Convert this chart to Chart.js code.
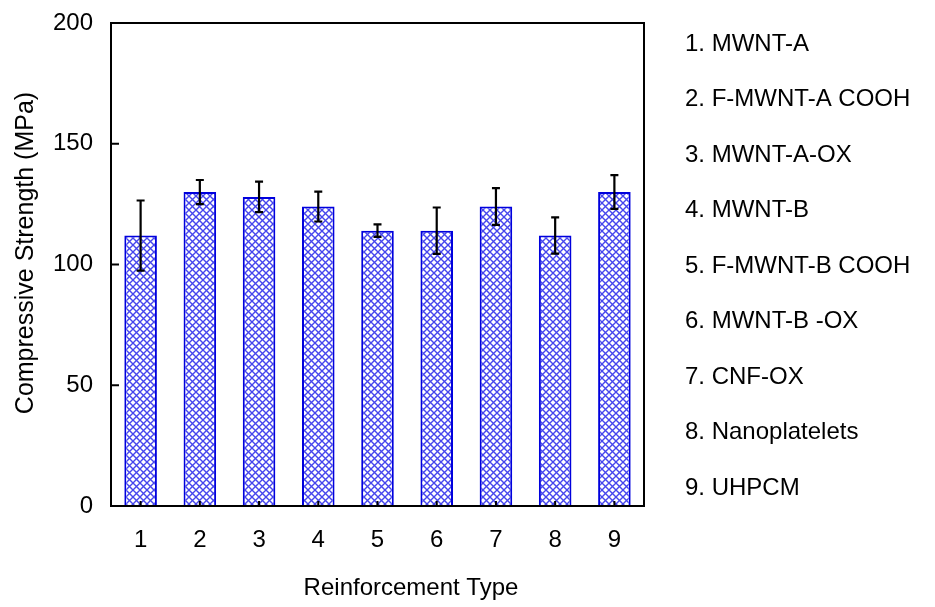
<!DOCTYPE html>
<html>
<head>
<meta charset="utf-8">
<script src="https://cdn.jsdelivr.net/npm/chart.js@4/dist/chart.umd.min.js"></script>
<style>
  html, body { margin: 0; padding: 0; background: #fff; }
  #wrap { width: 935px; height: 607px; }
</style>
</head>
<body>
<div id="wrap"><canvas id="strengthChart" width="935" height="607"></canvas></div>
<script>
// Compressive strength by reinforcement type
const categories = ['1', '2', '3', '4', '5', '6', '7', '8', '9'];
const strength = [112, 130, 128, 124, 114, 114, 124, 112, 130];
const strengthErr = [14.5, 5, 6.3, 6.2, 2.6, 9.6, 7.6, 7.5, 7];
const typeNames = [
    '1. MWNT-A',
    '2. F-MWNT-A COOH',
    '3. MWNT-A-OX',
    '4. MWNT-B',
    '5. F-MWNT-B COOH',
    '6. MWNT-B -OX',
    '7. CNF-OX',
    '8. Nanoplatelets',
    '9. UHPCM'
];
const yTicks = [0, 50, 100, 150, 200];
const xTitle = 'Reinforcement Type';
const yTitle = 'Compressive Strength (MPa)';

const FONT = "'Liberation Sans', Arial, sans-serif";

// crosshatch fill for the bars
function makeHatch() {
    const c = document.createElement('canvas');
    c.width = 7;
    c.height = 7;
    const g = c.getContext('2d');
    g.fillStyle = '#ffffff';
    g.fillRect(0, 0, 7, 7);
    g.strokeStyle = 'rgba(50, 50, 235, 0.9)';
    g.lineWidth = 1.4;
    g.beginPath();
    g.moveTo(-1, -1); g.lineTo(8, 8);
    g.moveTo(8, -1); g.lineTo(-1, 8);
    g.stroke();
    return document.getElementById('strengthChart').getContext('2d').createPattern(c, 'repeat');
}

// error bars, frame, inside tick marks, axis titles and the type list
const extrasPlugin = {
    id: 'extras',
    afterDatasetsDraw(chart) {
        const ctx = chart.ctx;
        const x = chart.scales.x;
        const y = chart.scales.y;
        const area = chart.chartArea;

        ctx.save();
        ctx.strokeStyle = '#000';
        ctx.lineWidth = 2.2;
        strength.forEach(function(v, i) {
            const cx = x.getPixelForValue(i);
            const top = y.getPixelForValue(v + strengthErr[i]);
            const bot = y.getPixelForValue(v - strengthErr[i]);
            ctx.beginPath();
            ctx.moveTo(cx, top); ctx.lineTo(cx, bot);
            ctx.moveTo(cx - 4, top); ctx.lineTo(cx + 4, top);
            ctx.moveTo(cx - 4, bot); ctx.lineTo(cx + 4, bot);
            ctx.stroke();
        });

        // frame
        ctx.lineWidth = 2;
        ctx.strokeRect(area.left, area.top, area.right - area.left, area.bottom - area.top);

        // tick marks pointing inward
        ctx.beginPath();
        yTicks.forEach(function(t) {
            const py = y.getPixelForValue(t);
            ctx.moveTo(area.left, py); ctx.lineTo(area.left + 8, py);
        });
        categories.forEach(function(c, i) {
            const px = x.getPixelForValue(i);
            ctx.moveTo(px, area.bottom); ctx.lineTo(px, area.bottom - 5);
        });
        ctx.stroke();

        ctx.fillStyle = '#000';
        ctx.textBaseline = 'middle';

        // axis titles
        ctx.textAlign = 'center';
        ctx.font = '24px ' + FONT;
        ctx.fillText(xTitle, 411, 588);
        ctx.save();
        ctx.translate(26, 253);
        ctx.rotate(-Math.PI / 2);
        ctx.font = '25px ' + FONT;
        ctx.fillText(yTitle, 0, 0);
        ctx.restore();

        // reinforcement type list
        ctx.font = '24px ' + FONT;
        ctx.textAlign = 'left';
        typeNames.forEach(function(name, i) {
            ctx.fillText(name, 685, 44 + i * 55.5);
        });
        ctx.restore();
    }
};

document.addEventListener('DOMContentLoaded', function() {
    const ctx = document.getElementById('strengthChart').getContext('2d');
    new Chart(ctx, {
        type: 'bar',
        data: {
            labels: categories,
            datasets: [{
                data: strength,
                backgroundColor: makeHatch(),
                borderColor: '#0000dd',
                borderWidth: 2,
                barPercentage: 0.55,
                categoryPercentage: 1.0
            }]
        },
        options: {
            responsive: false,
            animation: false,
            events: [],
            layout: { padding: { top: 23, right: 291, left: 0, bottom: 0 } },
            plugins: {
                legend: { display: false },
                tooltip: { enabled: false }
            },
            scales: {
                x: {
                    grid: { display: false, drawTicks: false },
                    border: { display: false },
                    ticks: { color: '#000', font: { family: FONT, size: 24 }, padding: 20 },
                    afterFit: function(scale) {
                        scale.height = 101;
                        scale.paddingLeft = 0;
                        scale.paddingRight = 0;
                    }
                },
                y: {
                    min: 0,
                    max: 200,
                    afterBuildTicks: function(scale) {
                        scale.ticks = yTicks.map(function(v) { return { value: v }; });
                    },
                    grid: { display: false, drawTicks: false },
                    border: { display: false },
                    ticks: { color: '#000', font: { family: FONT, size: 24 }, padding: 18 },
                    afterFit: function(scale) {
                        scale.width = 111;
                        scale.paddingTop = 0;
                        scale.paddingBottom = 0;
                    }
                }
            }
        },
        plugins: [extrasPlugin]
    });
});
</script>
</body>
</html>
